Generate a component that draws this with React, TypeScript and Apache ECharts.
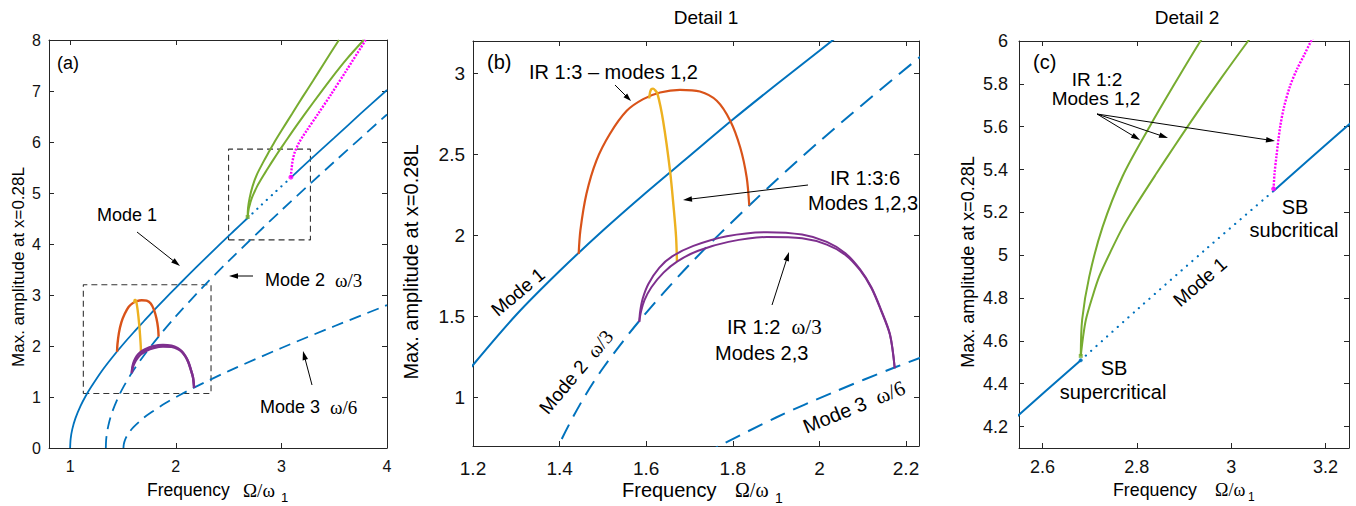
import React, { useEffect, useRef } from "react";
import * as echarts from "echarts";

// ---- Backbone curves: max amplitude vs. frequency ratio ----
const mode1Freq = [1.0, 1.005, 1.02, 1.05, 1.1, 1.15, 1.2, 1.3, 1.4, 1.5, 1.6, 1.7, 1.8, 1.9, 2.0, 2.1, 2.2, 2.4, 2.55, 2.681, 2.8, 2.95, 3.09, 3.25, 3.5, 3.75, 4.0];
const mode1Amp = [0, 0.18, 0.365, 0.58, 0.83, 1.03, 1.2, 1.51, 1.78, 2.03, 2.265, 2.49, 2.715, 2.93, 3.14, 3.35, 3.555, 3.96, 4.255, 4.51, 4.745, 5.035, 5.3, 5.61, 6.08, 6.555, 7.02];
// indices bounding the unstable (dotted) stretch of mode 1
const mode1UnstableFrom = 19;
const mode1UnstableTo = 22;

const mode2Freq = [1.338, 1.341, 1.35, 1.37, 1.4, 1.45, 1.5, 1.585, 1.7, 1.838, 2.0, 2.25, 2.5, 3.0, 3.5, 4.0];
const mode2Amp = [0, 0.16, 0.31, 0.51, 0.715, 0.97, 1.18, 1.475, 1.82, 2.185, 2.58, 3.14, 3.665, 4.66, 5.61, 6.54];

const mode3Freq = [1.505, 1.508, 1.52, 1.55, 1.6, 1.7, 1.769, 1.9, 2.03, 2.178, 2.5, 3.0, 3.5, 4.0];
const mode3Amp = [0, 0.072, 0.161, 0.28, 0.41, 0.597, 0.7, 0.876, 1.029, 1.189, 1.508, 1.961, 2.387, 2.8];

// ---- Internal-resonance branches ----
const ir13Freq = [1.444, 1.448, 1.462, 1.485, 1.516, 1.555, 1.593, 1.632, 1.678, 1.724, 1.763, 1.794, 1.817, 1.832, 1.838];
const ir13Amp = [1.885, 2.031, 2.257, 2.462, 2.626, 2.769, 2.841, 2.882, 2.898, 2.888, 2.831, 2.708, 2.544, 2.359, 2.185];

const ir136Freq = [1.607, 1.609, 1.612, 1.616, 1.62, 1.626, 1.639, 1.655, 1.664, 1.669, 1.671];
const ir136Amp = [2.845, 2.885, 2.903, 2.906, 2.898, 2.875, 2.708, 2.4, 2.154, 1.99, 1.84];

const ir12aFreq = [1.584, 1.586, 1.592, 1.605, 1.63, 1.66, 1.709, 1.786, 1.879, 1.96, 2.017, 2.06, 2.094, 2.12, 2.141, 2.163, 2.174];
const ir12aAmp = [1.467, 1.53, 1.61, 1.7, 1.8, 1.87, 1.935, 1.995, 2.02, 2.005, 1.96, 1.89, 1.79, 1.68, 1.55, 1.39, 1.18];
const ir12bFreq = [1.584, 1.588, 1.596, 1.612, 1.64, 1.672, 1.72, 1.79, 1.879, 1.96, 2.017, 2.06, 2.094, 2.12, 2.141, 2.163, 2.174];
const ir12bAmp = [1.467, 1.53, 1.6, 1.68, 1.77, 1.84, 1.905, 1.96, 1.99, 1.982, 1.943, 1.88, 1.785, 1.675, 1.545, 1.385, 1.18];

const greenAFreq = [2.681, 2.684, 2.699, 2.727, 2.77, 2.827, 2.876, 2.935, 3.0, 3.1, 3.2, 3.3, 3.4, 3.545];
const greenAAmp = [4.53, 4.7, 4.9, 5.13, 5.37, 5.6, 5.785, 6.0, 6.22, 6.55, 6.88, 7.2, 7.53, 8.0];
const greenBFreq = [2.681, 2.686, 2.692, 2.705, 2.72, 2.745, 2.77, 2.8, 2.841, 2.88, 2.926, 2.98, 3.036, 3.15, 3.3, 3.466, 3.62, 3.78];
const greenBAmp = [4.53, 4.62, 4.7, 4.8, 4.9, 5.02, 5.13, 5.24, 5.38, 5.51, 5.66, 5.83, 6.0, 6.34, 6.77, 7.23, 7.63, 8.0];

const subFreq = [3.09, 3.092, 3.096, 3.104, 3.112, 3.125, 3.14, 3.155, 3.17, 3.2, 3.245, 3.35, 3.466, 3.624, 3.798];
const subAmp = [5.31, 5.38, 5.46, 5.6, 5.69, 5.79, 5.87, 5.935, 6.0, 6.1, 6.24, 6.56, 6.92, 7.43, 8.0];

// bifurcation points
const sbSuper = [2.681, 4.51];
const sbSuperGreen = [2.681, 4.53];
const sbSub = [3.09, 5.31];

// zoom windows marked in the overview panel
const detail1X = [1.125, 2.334];
const detail1Y = [1.07, 3.2];
const detail2X = [2.5, 3.275];
const detail2Y = [4.08, 5.86];

// ---- Axis ranges and ticks ----
const aX = [0.8, 4];
const aY = [0, 8];
const aXTicks = [1, 2, 3, 4];
const aYTicks = [0, 1, 2, 3, 4, 5, 6, 7, 8];
const bX = [1.2, 2.23];
const bY = [0.7, 3.2];
const bXTicks = [1.2, 1.4, 1.6, 1.8, 2, 2.2];
const bYTicks = [1, 1.5, 2, 2.5, 3];
const cX = [2.55, 3.25];
const cY = [4.1, 6];
const cXTicks = [2.6, 2.8, 3, 3.2];
const cYTicks = [4.2, 4.4, 4.6, 4.8, 5, 5.2, 5.4, 5.6, 5.8, 6];

const SANS = "Liberation Sans, Arial, Helvetica, sans-serif";
const SERIF = "Liberation Serif, Times New Roman, serif";
const AXIS = "#262626";
const BLUE = "#0072BD";
const ORANGE = "#D95319";
const YELLOW = "#EDB120";
const PURPLE = "#7E2F8E";
const GREEN = "#77AC30";
const MAGENTA = "#FF00FF";

const zip = (xs: number[], ys: number[]) => xs.map((x, i) => [x, ys[i]]);

function axes(grid: number, range: number[], ticks: number[], dir: "x" | "y", fontSize: number, margin: number) {
  const common = {
    gridIndex: grid,
    type: "value",
    min: range[0],
    max: range[1],
    splitLine: { show: false },
    axisLine: { show: true, onZero: false, lineStyle: { color: AXIS, width: 1 } },
    axisTick: { show: true, inside: true, length: 5, customValues: ticks, lineStyle: { color: AXIS } },
  };
  const main = {
    ...common,
    position: dir === "x" ? "bottom" : "left",
    axisLabel: { show: true, customValues: ticks, fontSize, fontFamily: SANS, color: "#111", margin },
  };
  const mirror = {
    ...common,
    position: dir === "x" ? "top" : "right",
    axisLabel: { show: false },
  };
  return [main, mirror];
}

function curve(grid: number, data: number[][], color: string, width: number, type: any = "solid", extra: any = {}) {
  return {
    type: "line",
    xAxisIndex: grid * 2,
    yAxisIndex: grid * 2,
    data,
    symbol: "none",
    showSymbol: false,
    smooth: 0.3,
    clip: true,
    silent: true,
    lineStyle: { color, width, type, cap: "butt" },
    ...extra,
  };
}

function dot(grid: number, p: number[], color: string, symbol: string, size: number) {
  return {
    type: "scatter",
    xAxisIndex: grid * 2,
    yAxisIndex: grid * 2,
    data: [p],
    symbol,
    symbolSize: size,
    itemStyle: { color },
    silent: true,
    z: 5,
  };
}

function boxData(xs: number[], ys: number[]) {
  return [
    [xs[0], ys[0]],
    [xs[1], ys[0]],
    [xs[1], ys[1]],
    [xs[0], ys[1]],
    [xs[0], ys[0]],
  ];
}

function txt(text: string, x: number, y: number, size: number, align = "left", rotationDeg = 0, extra: any = {}) {
  return {
    type: "text",
    x,
    y,
    rotation: (rotationDeg * Math.PI) / 180,
    silent: true,
    z: 10,
    style: {
      text,
      fontFamily: SANS,
      fontSize: size,
      fill: "#000",
      align,
      verticalAlign: "middle",
      ...extra,
    },
  };
}

function modeLabel(name: string, freq: string, x: number, y: number, size: number, align = "left", rot = 0) {
  return txt(`{a|${name}}  {g|${freq}}`, x, y, size, align, rot, {
    rich: {
      a: { fontFamily: SANS, fontSize: size, fill: "#000" },
      g: { fontFamily: SERIF, fontSize: size + 1, fill: "#000" },
    },
  });
}

function arrow(x1: number, y1: number, x2: number, y2: number, head = 9, half = 2.8) {
  const dx = x2 - x1;
  const dy = y2 - y1;
  const len = Math.hypot(dx, dy);
  const ux = dx / len;
  const uy = dy / len;
  const bx = x2 - ux * head;
  const by = y2 - uy * head;
  const px = -uy;
  const py = ux;
  return [
    {
      type: "line",
      silent: true,
      z: 10,
      shape: { x1, y1, x2: x2 - ux * head * 0.6, y2: y2 - uy * head * 0.6 },
      style: { stroke: "#000", lineWidth: 1 },
    },
    {
      type: "polygon",
      silent: true,
      z: 10,
      shape: {
        points: [
          [x2, y2],
          [bx + px * half, by + py * half],
          [bx - px * half, by - py * half],
        ],
      },
      style: { fill: "#000" },
    },
  ];
}

function freqTitle(x: number, sizeMain: number, sizeSym: number, symX: number, subX: number, subY: number) {
  return [
    txt("Frequency", x, 490, sizeMain, "left"),
    txt("Ω/ω", symX, 490, sizeSym, "left", 0, { fontFamily: SERIF }),
    txt("1", subX, subY, Math.round(sizeSym * 0.68), "left", 0, { lineHeight: 11 }),
  ];
}

export default function App() {
  const ref = useRef<HTMLDivElement>(null);

  useEffect(() => {
    if (!ref.current) return;
    const chart = echarts.init(ref.current, undefined, { renderer: "svg" });

    const m1 = zip(mode1Freq, mode1Amp);
    const m1Low = m1.slice(0, mode1UnstableFrom + 1);
    const m1Mid = m1.slice(mode1UnstableFrom, mode1UnstableTo + 1);
    const m1High = m1.slice(mode1UnstableTo);
    const m2 = zip(mode2Freq, mode2Amp);
    const m3 = zip(mode3Freq, mode3Amp);
    const ir13 = zip(ir13Freq, ir13Amp);
    const ir136 = zip(ir136Freq, ir136Amp);
    const ir12a = zip(ir12aFreq, ir12aAmp);
    const ir12b = zip(ir12bFreq, ir12bAmp);
    const gA = zip(greenAFreq, greenAAmp);
    const gB = zip(greenBFreq, greenBAmp);
    const sub = zip(subFreq, subAmp);

    const dottedBlue = (gap: number) => ({ lineStyle: { color: BLUE, width: 2.2, type: [0.1, gap], cap: "round" } });

    const series: any[] = [
      // (a) overview
      curve(0, boxData(detail1X, detail1Y), "#333", 1.1, [6, 4], { smooth: false }),
      curve(0, boxData(detail2X, detail2Y), "#333", 1.1, [6, 4], { smooth: false }),
      curve(0, m1Low, BLUE, 1.8),
      curve(0, m1Mid, BLUE, 2, "dotted", dottedBlue(6.5)),
      curve(0, m1High, BLUE, 1.8),
      curve(0, m2, BLUE, 1.8, [12, 7]),
      curve(0, m3, BLUE, 1.8, [12, 7]),
      curve(0, ir13, ORANGE, 2.4),
      curve(0, ir136, YELLOW, 2.4),
      curve(0, ir12b, PURPLE, 2.4),
      curve(0, ir12a, PURPLE, 2.4),
      curve(0, gA, GREEN, 2),
      curve(0, gB, GREEN, 2),
      curve(0, sub, MAGENTA, 2.4, [2, 1.4]),
      dot(0, sbSuperGreen, GREEN, "rect", 4),
      dot(0, sbSub, MAGENTA, "circle", 5),

      // (b) detail 1
      curve(1, m1Low, BLUE, 2),
      curve(1, m2, BLUE, 2, [16, 9]),
      curve(1, m3, BLUE, 2, [16, 9]),
      curve(1, ir13, ORANGE, 2.2),
      curve(1, ir136, YELLOW, 2.4),
      curve(1, ir12b, PURPLE, 2),
      curve(1, ir12a, PURPLE, 2),

      // (c) detail 2
      curve(2, m1Low, BLUE, 2),
      curve(2, m1Mid, BLUE, 2, "dotted", dottedBlue(7)),
      curve(2, m1High, BLUE, 2),
      curve(2, gA, GREEN, 2),
      curve(2, gB, GREEN, 2),
      curve(2, sub, MAGENTA, 2.4, [2, 1.4]),
      dot(2, sbSuper, BLUE, "circle", 4),
      dot(2, sbSuperGreen, GREEN, "rect", 4),
      dot(2, sbSub, MAGENTA, "circle", 5),
    ];

    const [axX, axX2] = axes(0, aX, aXTicks, "x", 16, 10);
    const [axY, axY2] = axes(0, aY, aYTicks, "y", 16, 8);
    const [bxX, bxX2] = axes(1, bX, bXTicks, "x", 19, 13);
    const [byY, byY2] = axes(1, bY, bYTicks, "y", 19, 8);
    const [cxX, cxX2] = axes(2, cX, cXTicks, "x", 18, 10);
    const [cyY, cyY2] = axes(2, cY, cYTicks, "y", 18, 11);

    const graphic: any[] = [
      // axis titles
      txt("Max. amplitude at x=0.28L", 18, 267, 17, "center", 90),
      txt("Max. amplitude at x=0.28L", 411, 262, 20, "center", 90),
      txt("Max. amplitude at x=0.28L", 968, 262, 18, "center", 90),
      ...freqTitle(147, 17.5, 19, 243, 281, 497),
      ...freqTitle(622, 20, 20, 735, 775, 498),
      ...freqTitle(1113, 17.8, 18, 1215, 1248, 497),
      txt("Detail 1", 706, 17, 19, "center"),
      txt("Detail 2", 1187, 17, 19, "center"),

      // (a)
      txt("(a)", 57, 63, 18),
      txt("Mode 1", 97, 215, 18),
      ...arrow(137, 232, 180, 266),
      modeLabel("Mode 2", "ω/3", 265, 280, 18),
      ...arrow(253, 276, 229, 276),
      modeLabel("Mode 3", "ω/6", 260, 407, 18),
      ...arrow(312, 385, 303, 351),

      // (b)
      txt("(b)", 487, 62, 20),
      txt("IR 1:3 – modes 1,2", 529, 72, 20),
      ...arrow(615, 85, 631, 101, 8, 2.6),
      txt("IR 1:3:6", 865, 178, 20, "center"),
      txt("Modes 1,2,3", 863, 203, 20, "center"),
      ...arrow(808, 185, 683, 200),
      modeLabel("IR 1:2", "ω/3", 727, 327, 20),
      txt("Modes 2,3", 715, 353, 20),
      ...arrow(772, 305, 789, 252),
      txt("Mode 1", 518, 292, 19, "center", 40),
      modeLabel("Mode 2", "ω/3", 576, 372, 19, "center", 50),
      modeLabel("Mode 3", "ω/6", 854, 407, 20, "center", 22),

      // (c)
      txt("(c)", 1033, 62, 20),
      txt("IR 1:2", 1097, 79, 19, "center", 0, { lineHeight: 18 }),
      txt("Modes 1,2", 1096, 98.5, 19, "center", 0, { lineHeight: 18 }),
      ...arrow(1097, 114, 1140, 140),
      ...arrow(1097, 114, 1168, 138),
      ...arrow(1097, 114, 1275, 141),
      txt("SB", 1295, 207, 20, "center"),
      txt("subcritical", 1294, 230, 20, "center"),
      txt("SB", 1114, 368, 20, "center"),
      txt("supercritical", 1113, 392, 20, "center"),
      txt("Mode 1", 1200, 282, 19, "center", 41),
    ];

    chart.setOption({
      animation: false,
      backgroundColor: "#fff",
      grid: [
        { left: 49, top: 40, width: 338, height: 408 },
        { left: 473, top: 41, width: 446, height: 405 },
        { left: 1019, top: 41, width: 330, height: 407 },
      ],
      xAxis: [axX, axX2, bxX, bxX2, cxX, cxX2],
      yAxis: [axY, axY2, byY, byY2, cyY, cyY2],
      series,
      graphic,
    });

    return () => chart.dispose();
  }, []);

  return (
    <div
      ref={ref}
      style={{ position: "fixed", left: 0, top: 0, width: 1356, height: 506, background: "#fff" }}
    />
  );
}
